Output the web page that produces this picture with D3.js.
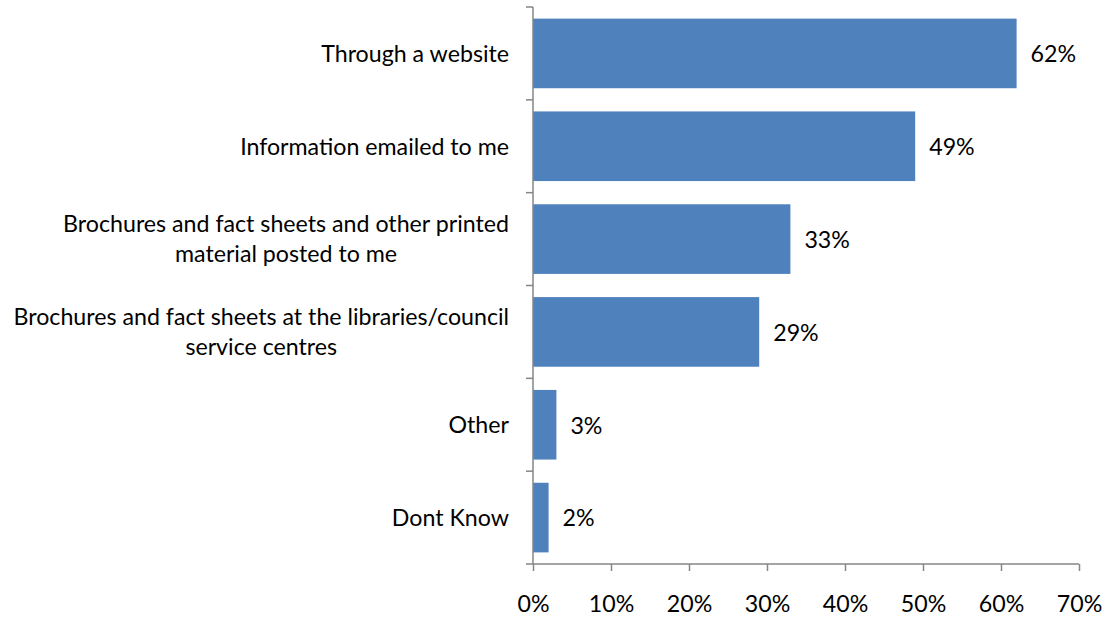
<!DOCTYPE html>
<html>
<head>
<meta charset="utf-8">
<script src="https://cdn.jsdelivr.net/npm/d3@7"></script>
<style>
  html, body { margin: 0; padding: 0; background: #fff; }
  svg text { font-family: Lato, "Open Sans", sans-serif; fill: #000; }
</style>
</head>
<body>
<svg id="chart" width="1107" height="621"></svg>
<script>
// Survey: preferred ways of receiving information
const categories = [
  ["Through a website"],
  ["Information emailed to me"],
  ["Brochures and fact sheets and other printed", "material posted to me"],
  ["Brochures and fact sheets at the libraries/council", "service centres"],
  ["Other"],
  ["Dont Know"]
];
const values = [62, 49, 33, 29, 3, 2];
const xTicks = [0, 10, 20, 30, 40, 50, 60, 70];

const svg = d3.select("#chart");
const plotLeft = 533, plotRight = 1079, plotTop = 7, plotBottom = 564;
const fontSize = 23.2;
const axisColor = "#868686";
const barColor = "#4F81BD";

const x = d3.scaleLinear().domain([0, 70]).range([plotLeft, plotRight]);
const y = d3.scaleBand().domain(d3.range(categories.length)).range([plotTop, plotBottom]).paddingInner(0.25).paddingOuter(0.125);

// bars
svg.selectAll("rect.bar").data(values).join("rect")
  .attr("class", "bar")
  .attr("x", x(0))
  .attr("y", (d, i) => y(i))
  .attr("width", d => x(d) - x(0))
  .attr("height", y.bandwidth())
  .attr("fill", barColor);

// value labels
svg.selectAll("text.val").data(values).join("text")
  .attr("class", "val")
  .attr("x", d => x(d) + 14)
  .attr("y", (d, i) => y(i) + y.bandwidth() / 2)
  .attr("dy", "0.38em")
  .attr("font-size", fontSize)
  .text(d => d + "%");

// y axis line with tick marks at band boundaries
const step = (plotBottom - plotTop) / categories.length;
const g = svg.append("g");
g.append("line").attr("x1", plotLeft).attr("x2", plotLeft).attr("y1", plotTop).attr("y2", plotBottom)
  .attr("stroke", axisColor).attr("stroke-width", 1.5);
d3.range(categories.length + 1).forEach(i => {
  g.append("line").attr("x1", plotLeft - 7).attr("x2", plotLeft).attr("y1", plotTop + i * step).attr("y2", plotTop + i * step)
    .attr("stroke", axisColor).attr("stroke-width", 1.5);
});

// x axis
const xAxis = d3.axisBottom(x).tickValues(xTicks).tickSize(7).tickFormat(d => d + "%");
const xg = svg.append("g").attr("transform", `translate(0,${plotBottom})`).call(xAxis);
xg.select(".domain").attr("stroke", axisColor).attr("stroke-width", 1.5).attr("d", `M${plotLeft},0H${plotRight}`);
xg.selectAll(".tick line").attr("stroke", axisColor).attr("stroke-width", 1.5);
xg.selectAll(".tick text").attr("font-size", fontSize).attr("font-family", "Lato, sans-serif")
  .attr("fill", "#000").attr("y", 48).attr("dy", 0);

// category labels: right-aligned block, lines centred within the block
const labelRight = 509;
const lineGap = 30;
categories.forEach((lines, i) => {
  const cy = y(i) + y.bandwidth() / 2;
  const grp = svg.append("g");
  const texts = lines.map((t, j) => grp.append("text")
    .attr("font-size", fontSize)
    .attr("text-anchor", "middle")
    .attr("y", cy + (j - (lines.length - 1) / 2) * lineGap)
    .attr("dy", "0.36em")
    .text(t));
  const w = d3.max(texts, t => t.node().getComputedTextLength());
  texts.forEach(t => t.attr("x", labelRight - w / 2));
});
</script>
</body>
</html>
